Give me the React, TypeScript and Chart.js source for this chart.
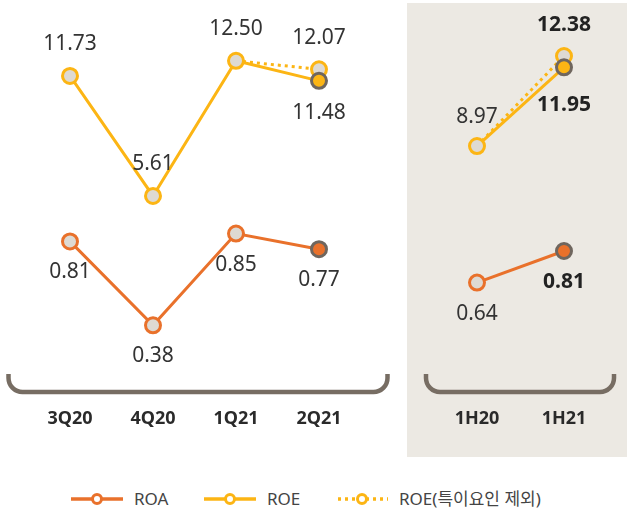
import React, { useEffect, useRef } from "react";
import { Chart, registerables } from "chart.js";

Chart.register(...registerables);

// ---------- data ----------
const quarterLabels = ["3Q20", "4Q20", "1Q21", "2Q21"];
const quarterROA = [0.81, 0.38, 0.85, 0.77];
const quarterROE = [11.73, 5.61, 12.5, 11.48];
const quarterROEAdj = [null, null, 12.5, 12.07];

const halfLabels = ["1H20", "1H21"];
const halfROA = [0.64, 0.81];
const halfROE = [8.97, 11.95];
const halfROEAdj = [8.97, 12.38];

const legendLabels = ["ROA", "ROE", "ROE(특이요인 제외)"];

// ---------- styles ----------
const FONT = '"Noto Sans", "Noto Sans CJK KR", sans-serif';
const ORANGE = "#e9712b";
const YELLOW = "#fcb514";
const FILL = "#dedad3";
const DARK = "#6f665e";
const BRACKET = "#776d63";
const BEIGE = "#ece9e3";
const TEXT = "#333333";

const labelPlugin = {
  id: "pointLabels",
  afterDatasetsDraw(chart: any) {
    const ctx = chart.ctx;
    chart.data.datasets.forEach((ds: any, di: number) => {
      const cfg = ds.pointLabels;
      if (!cfg) return;
      const meta = chart.getDatasetMeta(di);
      meta.data.forEach((pt: any, i: number) => {
        const place = cfg.place[i];
        const v = ds.data[i];
        if (!place || place === "none" || v == null) return;
        ctx.save();
        ctx.font = `${cfg.bold[i] ? "bold " : ""}21px ${FONT}`;
        ctx.fillStyle = cfg.bold[i] ? "#222222" : TEXT;
        ctx.textAlign = "center";
        ctx.textBaseline = "middle";
        const off = Array.isArray(cfg.offset) ? cfg.offset[i] : cfg.offset;
        const dy = place === "above" ? -off : off;
        ctx.fillText(v.toFixed(2), pt.x, pt.y + dy);
        ctx.restore();
      });
    });
  },
};

const bracketPlugin = {
  id: "bracket",
  afterDraw(chart: any, _args: any, opts: any) {
    if (!opts || !opts.show) return;
    const { ctx, chartArea } = chart;
    const x0 = chartArea.left - opts.extendLeft;
    const x1 = chartArea.right + opts.extendRight;
    const top = chartArea.bottom + opts.gap;
    const bottom = top + opts.depth;
    const r = opts.radius;
    ctx.save();
    ctx.strokeStyle = BRACKET;
    ctx.lineWidth = 4.5;
    ctx.beginPath();
    ctx.moveTo(x0, top);
    ctx.lineTo(x0, bottom - r);
    ctx.arcTo(x0, bottom, x0 + r, bottom, r);
    ctx.lineTo(x1 - r, bottom);
    ctx.arcTo(x1, bottom, x1, bottom - r, r);
    ctx.lineTo(x1, top);
    ctx.stroke();
    ctx.restore();
  },
};

function pointColors(n: number, base: string, highlightLast: boolean) {
  const bg: string[] = [];
  const bd: string[] = [];
  for (let i = 0; i < n; i++) {
    const hl = highlightLast && i === n - 1;
    bg.push(hl ? base : FILL);
    bd.push(hl ? DARK : base);
  }
  return { bg, bd };
}

function makeConfig(p: any) {
  const n = p.labels.length;
  const a = pointColors(n, ORANGE, true);
  const e = pointColors(n, YELLOW, true);
  const adj = pointColors(n, YELLOW, false);
  return {
    type: "line",
    data: {
      labels: p.labels,
      datasets: [
        {
          label: "ROA",
          data: p.roa,
          yAxisID: "yA",
          borderColor: ORANGE,
          borderWidth: 3,
          pointRadius: 7.5,
          pointBorderWidth: 3,
          pointBackgroundColor: a.bg,
          pointBorderColor: a.bd,
          clip: false,
          pointLabels: { place: p.roaPlace, bold: p.bold, offset: 31 },
        },
        {
          label: "ROE",
          data: p.roe,
          yAxisID: "yE",
          borderColor: YELLOW,
          borderWidth: 3,
          pointRadius: 7.5,
          pointBorderWidth: 3,
          pointBackgroundColor: e.bg,
          pointBorderColor: e.bd,
          clip: false,
          pointLabels: { place: p.roePlace, bold: p.bold, offset: p.roeOffset },
        },
        {
          label: "ROE(특이요인 제외)",
          data: p.roeAdj,
          yAxisID: "yE",
          borderColor: YELLOW,
          borderWidth: 3,
          borderDash: [3, 4],
          pointRadius: p.adjRadius,
          pointBorderWidth: 3,
          pointBackgroundColor: adj.bg,
          pointBorderColor: adj.bd,
          clip: false,
          pointLabels: { place: p.adjPlace, bold: p.bold, offset: 31 },
        },
      ],
    },
    options: {
      responsive: false,
      animation: false,
      devicePixelRatio: 1,
      layout: { padding: p.padding },
      plugins: {
        legend: { display: false },
        tooltip: { enabled: false },
        bracket: p.bracket,
      },
      scales: {
        x: {
          type: "category",
          offset: true,
          grid: { display: false, drawTicks: true, tickLength: p.tickGap },
          border: { display: false },
          ticks: {
            padding: 0,
            color: "#2a2a2a",
            font: { family: FONT, size: 18, weight: "bold" },
          },
          afterFit: (scale: any) => {
            scale.height = p.axisHeight;
            scale.paddingLeft = 0;
            scale.paddingRight = 0;
          },
        },
        yA: { display: false, min: p.roaRange[0], max: p.roaRange[1] },
        yE: { display: false, min: p.roeRange[0], max: p.roeRange[1] },
      },
    },
    plugins: [labelPlugin, bracketPlugin],
  };
}

function LineChart({ config, width, height }: { config: any; width: number; height: number }) {
  const ref = useRef<HTMLCanvasElement | null>(null);
  useEffect(() => {
    if (!ref.current) return;
    const chart = new Chart(ref.current, config);
    return () => chart.destroy();
  }, [config]);
  return <canvas ref={ref} width={width} height={height} style={{ display: "block", width, height }} />;
}

const leftConfig = makeConfig({
  labels: quarterLabels,
  roa: quarterROA,
  roe: quarterROE,
  roeAdj: quarterROEAdj,
  roaPlace: ["below", "below", "below", "below"],
  roePlace: ["above", "above", "above", "below"],
  adjPlace: ["none", "none", "none", "above"],
  bold: [false, false, false, false],
  adjRadius: [0, 0, 0, 7.5],
  roeOffset: 32,
  padding: { top: 10, left: 28.5, right: 44.5, bottom: 0 },
  axisHeight: 120,
  tickGap: 68,
  roaRange: [0.3046, 1.9934],
  roeRange: [-1.736, 15.067],
  bracket: { show: true, extendLeft: 20, extendRight: 27, gap: 34, depth: 18, radius: 14 },
});

const rightConfig = makeConfig({
  labels: halfLabels,
  roa: halfROA,
  roe: halfROE,
  roeAdj: halfROEAdj,
  roaPlace: ["below", "below"],
  roePlace: ["above", "below"],
  adjPlace: ["none", "above"],
  bold: [false, true],
  adjRadius: [0, 7.5],
  roeOffset: [29, 38],
  padding: { top: 7, left: 26.5, right: 19.5, bottom: 0 },
  axisHeight: 117,
  tickGap: 68,
  roaRange: [0.3315, 2.087],
  roeRange: [1.629, 13.989],
  bracket: { show: true, extendLeft: 7.5, extendRight: 6.5, gap: 34, depth: 18, radius: 14 },
});

function LegendMarker({ color, dotted }: { color: string; dotted?: boolean }) {
  return (
    <svg width={52} height={14} style={{ display: "block" }}>
      <line
        x1={dotted ? 2 : 0}
        y1={7}
        x2={52}
        y2={7}
        stroke={color}
        strokeWidth={3.5}
        strokeDasharray={dotted ? "3 4" : undefined}
      />
      <circle cx={26} cy={7} r={4.5} fill="#ffffff" stroke={color} strokeWidth={3} />
    </svg>
  );
}

export default function App() {
  const items = [
    { label: legendLabels[0], color: ORANGE, dotted: false, left: 71 },
    { label: legendLabels[1], color: YELLOW, dotted: false, left: 204 },
    { label: legendLabels[2], color: YELLOW, dotted: true, left: 336 },
  ];
  return (
    <div
      style={{
        position: "absolute",
        left: 0,
        top: 0,
        width: 627,
        height: 510,
        background: "#ffffff",
        overflow: "hidden",
        fontFamily: FONT,
      }}
    >
      <div style={{ position: "absolute", left: 0, top: 0 }}>
        <LineChart config={leftConfig} width={405} height={460} />
      </div>
      <div style={{ position: "absolute", left: 407, top: 3, width: 220, height: 454, background: BEIGE }}>
        <LineChart config={rightConfig} width={220} height={454} />
      </div>
      {items.map((it) => (
        <div
          key={it.label}
          style={{
            position: "absolute",
            left: it.left,
            top: 486,
            height: 26,
            display: "flex",
            alignItems: "center",
          }}
        >
          <LegendMarker color={it.color} dotted={it.dotted} />
          <span style={{ marginLeft: 11, fontSize: 17, color: "#444444", lineHeight: "26px", whiteSpace: "nowrap" }}>
            {it.label}
          </span>
        </div>
      ))}
    </div>
  );
}
